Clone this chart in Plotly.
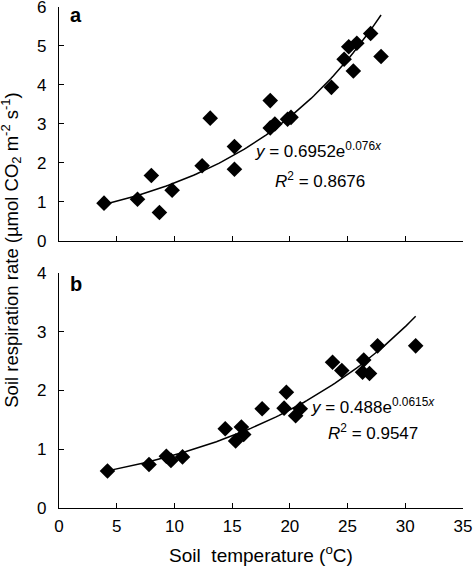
import numpy as np
import plotly.graph_objects as go

# Panel a data
temp_a = [3.9, 6.8, 8.0, 8.7, 9.8, 12.4, 13.1, 15.2, 15.2, 18.3, 18.3, 18.7, 19.8, 20.1, 23.6, 24.7, 25.1, 25.8, 25.5, 27.0, 27.9]
resp_a = [0.97, 1.07, 1.68, 0.73, 1.30, 1.93, 3.15, 2.42, 1.84, 3.60, 2.90, 3.00, 3.12, 3.17, 3.94, 4.66, 4.98, 5.07, 4.36, 5.32, 4.73]

# Panel b data
temp_b = [4.2, 7.8, 9.3, 9.7, 10.7, 14.4, 15.3, 15.8, 16.0, 17.6, 19.5, 19.7, 20.5, 20.9, 23.7, 24.5, 26.4, 26.3, 26.9, 27.6, 30.9]
resp_b = [0.63, 0.74, 0.88, 0.81, 0.87, 1.35, 1.14, 1.38, 1.25, 1.69, 1.70, 1.97, 1.57, 1.69, 2.48, 2.34, 2.52, 2.31, 2.29, 2.76, 2.76]

# Exponential fit coefficients (from chart)
coef_a, rate_a = 0.6952, 0.076
coef_b, rate_b = 0.488, 0.0615

x_ticks = [0, 5, 10, 15, 20, 25, 30, 35]
ya_ticks = [0, 1, 2, 3, 4, 5, 6]
yb_ticks = [0, 1, 2, 3, 4]

FONT = "Liberation Sans, Arial, sans-serif"

fig = go.Figure()

fx_a = np.linspace(min(temp_a), max(temp_a), 100)
fx_b = np.linspace(min(temp_b), max(temp_b), 100)

fig.add_trace(go.Scatter(x=temp_a, y=resp_a, mode="markers", xaxis="x", yaxis="y",
                         marker=dict(symbol="diamond", size=12, color="black"), showlegend=False))
fig.add_trace(go.Scatter(x=fx_a, y=coef_a * np.exp(rate_a * fx_a), mode="lines", xaxis="x", yaxis="y",
                         line=dict(color="black", width=1.5), showlegend=False))
fig.add_trace(go.Scatter(x=temp_b, y=resp_b, mode="markers", xaxis="x2", yaxis="y2",
                         marker=dict(symbol="diamond", size=12, color="black"), showlegend=False))
fig.add_trace(go.Scatter(x=fx_b, y=coef_b * np.exp(rate_b * fx_b), mode="lines", xaxis="x2", yaxis="y2",
                         line=dict(color="black", width=1.5), showlegend=False))

axis_common = dict(showline=True, linecolor="black", linewidth=1.2, ticks="inside", ticklen=5,
                   tickcolor="black", tickwidth=1.2, showgrid=False, zeroline=False, automargin=False,
                   ticklabeloverflow="allow",
                   tickfont=dict(family=FONT, size=17, color="black"))

fig.update_layout(
    width=474, height=573,
    margin=dict(l=59, r=11, t=7, b=65),
    plot_bgcolor="white", paper_bgcolor="white",
    font=dict(family=FONT, color="black"),
    xaxis=dict(domain=[0, 1], anchor="y", range=[0, 35], tickvals=x_ticks, showticklabels=False, **axis_common),
    yaxis=dict(domain=[0.533, 1], anchor="x", range=[0, 6], tickvals=ya_ticks, ticklabelstandoff=8, **axis_common),
    xaxis2=dict(domain=[0, 1], anchor="y2", range=[0, 35], tickvals=x_ticks, ticklabelstandoff=2,
                title=dict(text="Soil  temperature (<sup>o</sup>C)", font=dict(family=FONT, size=19), standoff=14),
                **axis_common),
    yaxis2=dict(domain=[0, 0.469], anchor="x2", range=[0, 4], tickvals=yb_ticks, ticklabelstandoff=8, **axis_common),
)

ann = []
ann.append(dict(text="Soil respiration rate (µmol CO<sub>2</sub> m<sup>-2</sup> s<sup>-1</sup>)",
                xref="paper", yref="paper", x=-0.117, y=0.515, textangle=-90,
                showarrow=False, xanchor="center", yanchor="middle",
                font=dict(family=FONT, size=18.5)))
ann.append(dict(text="<b>a</b>", xref="x", yref="y", x=0.8, y=5.8, showarrow=False,
                xanchor="left", yanchor="middle", font=dict(family=FONT, size=20)))
ann.append(dict(text="<b>b</b>", xref="x2", yref="y2", x=0.8, y=3.82, showarrow=False,
                xanchor="left", yanchor="middle", font=dict(family=FONT, size=20)))
ann.append(dict(text="<i>y</i> = 0.6952e<sup>0.076<i>x</i></sup>", xref="x", yref="y", x=16.8, y=2.33,
                showarrow=False, xanchor="left", yanchor="middle", font=dict(family=FONT, size=17)))
ann.append(dict(text="<i>R</i><sup>2</sup> = 0.8676", xref="x", yref="y", x=18.5, y=1.56,
                showarrow=False, xanchor="left", yanchor="middle", font=dict(family=FONT, size=17)))
ann.append(dict(text="<i>y</i> = 0.488e<sup>0.0615<i>x</i></sup>", xref="x2", yref="y2", x=21.7, y=1.73,
                showarrow=False, xanchor="left", yanchor="middle", font=dict(family=FONT, size=17)))
ann.append(dict(text="<i>R</i><sup>2</sup> = 0.9547", xref="x2", yref="y2", x=23.1, y=1.29,
                showarrow=False, xanchor="left", yanchor="middle", font=dict(family=FONT, size=17)))
fig.update_layout(annotations=ann)

fig.write_html("out.html", config={"displayModeBar": False},
               post_script="document.body.style.margin='0px';")
